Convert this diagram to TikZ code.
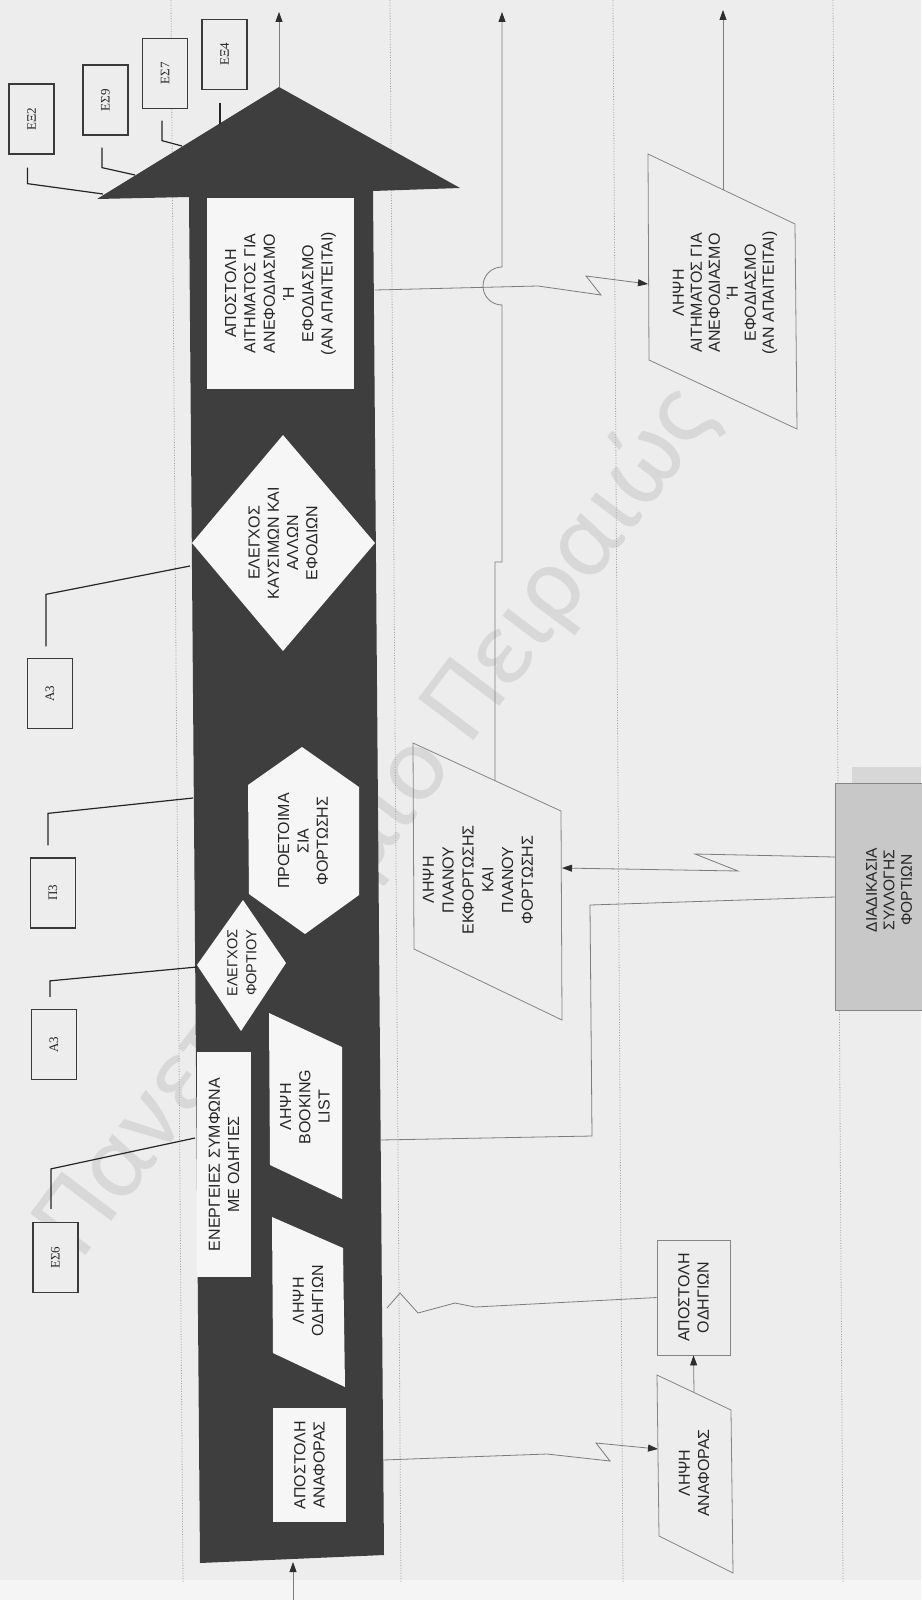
\documentclass[tikz,border=0pt]{standalone}
\usepackage{fontspec}
\setmainfont{Liberation Sans}
\newfontfamily\refserif{Liberation Serif}
\newfontfamily\wmfont{Carlito}
\usetikzlibrary{arrows.meta,calc}
\definecolor{bgc}{HTML}{EDEDED}
\definecolor{bandc}{HTML}{F5F5F5}
\definecolor{shaftc}{HTML}{3E3E3E}
\definecolor{boxw}{HTML}{F6F6F6}
\definecolor{txtc}{HTML}{262626}
\definecolor{edgec}{HTML}{858585}
\definecolor{linec}{HTML}{7C7C7C}
\definecolor{lanec}{HTML}{A3A3A3}
\definecolor{refc}{HTML}{3A3A3A}
\definecolor{tipc}{HTML}{2E2E2E}
\definecolor{collc}{HTML}{C8C8C8}
\definecolor{collback}{HTML}{D7D7D7}
\definecolor{wmc}{HTML}{D8D8D8}
\begin{document}
\begin{tikzpicture}[x=1pt,y=-1pt,
  lbl/.style={rotate=90,align=center,text=txtc,inner sep=0pt,font=\fontsize{16}{19.3}\selectfont},
  refbox/.style={rotate=90,draw=refc,line width=1.3pt,fill=bgc,minimum width=70pt,minimum height=45pt,inner sep=0pt,text=txtc,font=\refserif\fontsize{13}{13}\selectfont},
  callout/.style={draw=black!85,line width=1.2pt},
  conn/.style={draw=linec,line width=0.8pt},
  endtip/.style={-{Triangle[length=10pt,width=7pt,color=tipc]}},
  shapeline/.style={draw=edgec,line width=0.8pt},
  laneline/.style={draw=lanec,line width=0.8pt,dash pattern=on 1pt off 1.6pt},
]
\useasboundingbox (0,0) rectangle (921,1600);
\fill[bgc] (0,0) rectangle (921,1600);
\fill[bandc] (0,1580) rectangle (921,1600);

% watermark, lying under the drawing
\node[rotate=53,text=wmc,font=\wmfont\fontsize{108}{108}\selectfont,inner sep=0pt] (wm) at (376,822)
  {Πανεπιστήμιο Πειραιώς};

% lane separators
\draw[laneline] (171,0) -- (183,1583);
\draw[laneline] (390,0) -- (401,1583);
\draw[laneline] (613,0) -- (623,1583);
\draw[laneline] (833,0) -- (843,1583);

% main process arrow
\fill[shaftc] (97,199) -- (279,87) -- (460,188) -- (373,191) -- (384,1555)
  -- (200,1563) -- (189,197) -- cycle;
\coordinate (apex) at (279,87);
\coordinate (outA) at (279,12);
\coordinate (inA) at (293,1600);
\coordinate (shaftin) at (293,1562);
\draw[conn,endtip] (apex) -- (outA);
\draw[conn,endtip] (inA) -- (shaftin);

% steps inside the arrow
\node[lbl,fill=boxw,minimum width=191pt,minimum height=147pt] (sendreq) at (280.5,293.5)
  {ΑΠΟΣΤΟΛΗ\\ΑΙΤΗΜΑΤΟΣ ΓΙΑ\\ΑΝΕΦΟΔΙΑΣΜΟ\\Ή\\ΕΦΟΔΙΑΣΜΟ\\(ΑΝ ΑΠΑΙΤΕΙΤΑΙ)};

\fill[boxw] (283,435) -- (375,543) -- (283,651) -- (192,543) -- cycle;
\node[lbl] (fuel) at (283,543) {ΕΛΕΓΧΟΣ\\ΚΑΥΣΙΜΩΝ ΚΑΙ\\ΑΛΛΩΝ\\ΕΦΟΔΙΩΝ};

\fill[boxw] (302,747) -- (359,787) -- (359,895) -- (305,934) -- (249,894) -- (248,785) -- cycle;
\node[lbl] (prep) at (303,841) {ΠΡΟΕΤΟΙΜΑ\\ΣΙΑ\\ΦΟΡΤΩΣΗΣ};

\fill[boxw] (243,900) -- (286,963) -- (241,1031) -- (197,965) -- cycle;
\node[lbl,font=\fontsize{14.5}{19}\selectfont] (cargo) at (242,963) {ΕΛΕΓΧΟΣ\\ΦΟΡΤΙΟΥ};

\node[lbl,fill=boxw,minimum width=225pt,minimum height=54pt] (instr) at (224,1164.5)
  {ΕΝΕΡΓΕΙΕΣ ΣΥΜΦΩΝΑ\\ΜΕ ΟΔΗΓΙΕΣ};

\fill[boxw] (269,1013) -- (342,1047) -- (342,1199) -- (270,1165) -- cycle;
\node[lbl] (booking) at (305,1107) {ΛΗΨΗ\\BOOKING\\LIST};

\fill[boxw] (272,1217) -- (343,1248) -- (345,1387) -- (273,1353) -- cycle;
\node[lbl] (getinstr) at (308,1301) {ΛΗΨΗ\\ΟΔΗΓΙΩΝ};

\node[lbl,fill=boxw,minimum width=114pt,minimum height=73pt] (sendrep) at (309.5,1465)
  {ΑΠΟΣΤΟΛΗ\\ΑΝΑΦΟΡΑΣ};

% reference boxes and their callouts
\node[refbox] (ex2) at (31.5,119) {ΕΞ2};
\node[refbox] (es9) at (105.5,100) {ΕΣ9};
\node[refbox] (es7) at (165,73.5) {ΕΣ7};
\node[refbox] (ex4) at (224.5,54.5) {ΕΞ4};
\node[refbox] (a3a) at (50,693.5) {Α3};
\node[refbox] (p3) at (53,893) {Π3};
\node[refbox] (a3b) at (54,1044.5) {Α3};
\node[refbox] (es6) at (55.5,1257.5) {ΕΣ6};

\coordinate (hx2) at (103,194);
\coordinate (hs9) at (135,175);
\coordinate (hs7) at (182,146);
\coordinate (fuelL) at (190,566);
\coordinate (prepL) at (193,798);
\coordinate (cargoL) at (197,967);
\coordinate (instrL) at (195,1138);
\draw[callout] ($(ex2.west)+(-4,13)$) -- ++(0,16) -- (hx2);
\draw[callout] ($(es9.west)+(-3.5,12)$) -- ++(0,20) -- (hs9);
\draw[callout] ($(es7.west)+(-3,11.5)$) -- ++(0,20) -- (hs7);
\draw[callout] ($(ex4.west)+(-4.5,12.5)$) -- ++(0,21);
\draw[callout] ($(a3a.east)+(-4,-11.5)$) -- ++(0,-52) -- (fuelL);
\draw[callout] ($(p3.east)+(-5,-12)$) -- ++(0,-32) -- (prepL);
\draw[callout] ($(a3b.east)+(-4,-12)$) -- ++(0,-16) -- (cargoL);
\draw[callout] ($(es6.east)+(-4.5,-13)$) -- ++(0,-40) -- (instrL);

% second lane
\draw[shapeline] (413,743) -- (561,811) -- (562,1020) -- (414,949) -- cycle;
\node[lbl,font=\fontsize{16}{19.8}\selectfont] (plan) at (478,880)
  {ΛΗΨΗ\\ΠΛΑΝΟΥ\\ΕΚΦΟΡΤΩΣΗΣ\\ΚΑΙ\\ΠΛΑΝΟΥ\\ΦΟΡΤΩΣΗΣ};

% third lane
\draw[shapeline] (648,154) -- (795,224) -- (797,429) -- (649,360) -- cycle;
\node[lbl,font=\fontsize{16}{18}\selectfont] (getreq) at (725,293)
  {ΛΗΨΗ\\ΑΙΤΗΜΑΤΟΣ ΓΙΑ\\ΑΝΕΦΟΔΙΑΣΜΟ\\Ή\\ΕΦΟΔΙΑΣΜΟ\\(ΑΝ ΑΠΑΙΤΕΙΤΑΙ)};

\node[lbl,draw=edgec,line width=0.8pt,minimum width=115pt,minimum height=73pt]
  (sendinstr) at (693.5,1297.5) {ΑΠΟΣΤΟΛΗ\\ΟΔΗΓΙΩΝ};

\draw[shapeline] (657,1375) -- (731,1410) -- (733,1573) -- (659,1536) -- cycle;
\node[lbl] (getrep) at (694,1473) {ΛΗΨΗ\\ΑΝΑΦΟΡΑΣ};

% fourth lane
\fill[collback] (852,767) rectangle (921,783);
\draw[draw=edgec,line width=0.8pt,fill=collc] (835,783) rectangle (930,1010);
\node[lbl,font=\fontsize{15.5}{17.5}\selectfont] (collect) at (889,890)
  {ΔΙΑΔΙΚΑΣΙΑ\\ΣΥΛΛΟΓΗΣ\\ΦΟΡΤΙΩΝ};

% message flows
\coordinate (reqA) at (375,290);
\coordinate (getreqIn) at (648,284);
\draw[conn,endtip] (reqA) -- (538,286) -- (601,295) -- (586,276) -- (getreqIn);

\coordinate (getreqTop) at (723,190);
\coordinate (getreqOut) at (723,10);
\draw[conn,endtip] (getreqTop) -- (getreqOut);

\coordinate (planTop) at (495,781);
\coordinate (planOut) at (502,12);
\draw[conn,endtip] (planTop) -- (495,562) -- (502,562) -- (502,305)
  .. controls (491.5,305) and (483,296.5) .. (483,286)
  .. controls (483,275.5) and (491.5,267) .. (502,267) -- (planOut);

\coordinate (collA) at (835,857);
\coordinate (planIn) at (562,868);
\draw[conn,endtip] (collA) -- (695,854) -- (738,871) -- (planIn);

\coordinate (collB) at (835,897);
\coordinate (bookIn) at (380,1140);
\draw[conn] (collB) -- (590,905) -- (592,1136) -- (bookIn);

\coordinate (repOut) at (383,1460);
\coordinate (getrepIn) at (658,1449);
\draw[conn,endtip] (repOut) -- (547,1454) -- (610,1461) -- (596,1443) -- (getrepIn);

\coordinate (instrIn) at (387,1308);
\draw[conn] (sendinstr.north) -- (475,1307) -- (455,1303) -- (418,1313) -- (400,1293) -- (instrIn);

\coordinate (getrepTop) at (694,1392);
\draw[conn,endtip] (getrepTop) -- (sendinstr.west);
\end{tikzpicture}
\end{document}
